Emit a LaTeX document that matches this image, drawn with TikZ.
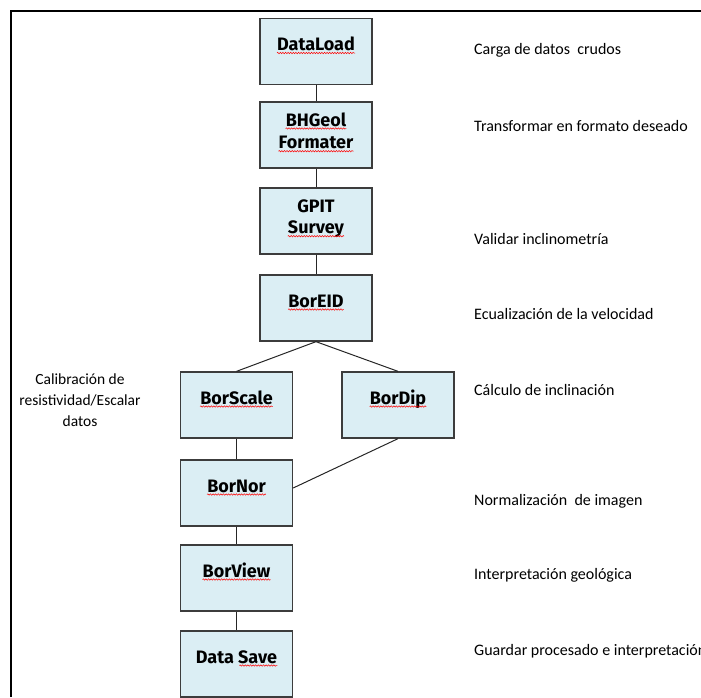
\documentclass[tikz,border=0pt]{standalone}
\usepackage{fontspec}
\setmainfont{Carlito}
\newfontfamily\boxfont{Fira Sans}
\usetikzlibrary{decorations.pathmorphing}
\definecolor{boxfill}{HTML}{DBEEF4}
\definecolor{boxline}{HTML}{3C3C3C}
\begin{document}
\begin{tikzpicture}[x=1pt,y=-1pt,
  stage/.style={draw=boxline, line width=1.3pt, fill=boxfill,
    minimum width=112pt, minimum height=66pt, inner sep=0pt},
  stagelbl/.style={font=\boxfont\bfseries\fontsize{18}{22.5}\selectfont,
    inner sep=0pt, anchor=base},
  note/.style={font=\fontsize{16}{19}\selectfont, inner sep=0pt, anchor=base west},
  sidenote/.style={font=\fontsize{15.5}{21}\selectfont, inner sep=0pt, align=center},
  link/.style={draw=black!85, line width=1pt},
  spell/.style={draw=red, line width=0.5pt, decorate,
    decoration={snake, segment length=2.6pt, amplitude=0.7pt}}]

\useasboundingbox (0,0) rectangle (701,697);

% page frame
\draw[line width=2pt] (11,697) -- (11,11) -- (701,11);

% processing stages
\node[stage] (dataload) at (316,51.5) {};
\node[stage] (bhgeol)   at (316,135) {};
\node[stage] (gpit)     at (316,221) {};
\node[stage] (boreid)   at (316,308) {};
\node[stage] (borscale) at (236.5,405) {};
\node[stage] (bordip)   at (398,405) {};
\node[stage] (bornor)   at (236.5,493) {};
\node[stage] (borview)  at (236.5,578) {};
\node[stage] (datasave) at (236.5,664) {};

% stage names
\node[stagelbl] (dataload-t) at ([yshift=1pt]dataload.center) {DataLoad};
\node[stagelbl] (bhgeol-t1) at ([yshift=9pt]bhgeol.center) {BHGeol};
\node[stagelbl] (bhgeol-t2) at ([yshift=-13.7pt]bhgeol.center) {Formater};
\node[stagelbl] (gpit-t1) at ([yshift=9pt]gpit.center) {GPIT};
\node[stagelbl] (gpit-t2) at ([yshift=-12.7pt]gpit.center) {Survey};
\node[stagelbl] (boreid-t) at ([yshift=1pt]boreid.center) {BorEID};
\node[stagelbl] (borscale-t) at ([yshift=1pt]borscale.center) {BorScale};
\node[stagelbl] (bordip-t) at ([yshift=1pt]bordip.center) {BorDip};
\node[stagelbl] (bornor-t) at ([yshift=1pt]bornor.center) {BorNor};
\node[stagelbl] (borview-t) at ([yshift=1pt]borview.center) {BorView};
\node[stagelbl] (datasave-t) at ([yshift=1pt]datasave.center) {Data Save};

% spell-checker underlines
\foreach \w in {dataload-t, bhgeol-t1, bhgeol-t2, gpit-t2, boreid-t,
                borscale-t, bordip-t, bornor-t, borview-t}
  \draw[spell] ([yshift=-2.5pt]\w.base west) -- ([yshift=-2.5pt]\w.base east);
\draw[spell] ([xshift=-38pt,yshift=-2.5pt]datasave-t.base east) -- ([yshift=-2.5pt]datasave-t.base east);

% connectors
\draw[link] (dataload.south) -- (bhgeol.north);
\draw[link] (bhgeol.south) -- (gpit.north);
\draw[link] (gpit.south) -- (boreid.north);
\draw[link] (boreid.south) -- (borscale.north);
\draw[link] (boreid.south) -- (bordip.north);
\draw[link] (borscale.south) -- (bornor.north);
\draw[link] (bordip.south) -- ([yshift=5pt]bornor.east);
\draw[link] (bornor.south) -- (borview.north);
\draw[link] (borview.south) -- (datasave.north);

% descriptions
\node[note] (d-load)  at (474,54)  {Carga de datos\ \ crudos};
\node[note] (d-fmt)   at (474,131) {Transformar en formato deseado};
\node[note] (d-surv)  at (474,244) {Validar inclinometría};
\node[note] (d-eid)   at (474,319) {Ecualización de la velocidad};
\node[note] (d-dip)   at (474,395) {Cálculo de inclinación};
\node[note] (d-nor)   at (474,505) {Normalización\ \ de imagen};
\node[note] (d-view)  at (474,579) {Interpretación geológica};
\node[note] (d-save)  at (474,655) {Guardar procesado e interpretación};

\node[sidenote] (d-scale) at (80,400) {Calibración de\\resistividad/Escalar\\datos};
\end{tikzpicture}
\end{document}
